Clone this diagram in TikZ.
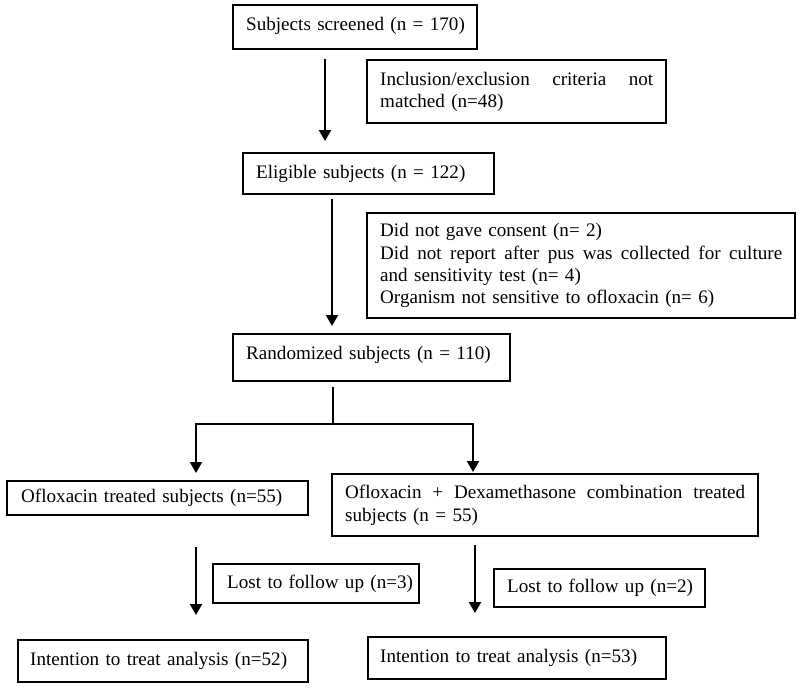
\documentclass[tikz,border=0pt]{standalone}
\usepackage{fontspec}
\setmainfont{Liberation Serif}
\usetikzlibrary{arrows.meta}
\newcommand{\jline}[2]{\leavevmode\hbox to #1{#2}}
\begin{document}
\begin{tikzpicture}[x=1pt,y=-1pt,
  box/.style={draw=black, line width=2.4pt, anchor=north west, inner xsep=13pt, inner ysep=0pt,
    align=left, font=\fontsize{19.1}{22.3}\selectfont},
  arr/.style={line width=2.1pt, -{Triangle[length=11pt,width=12pt]}},
  ln/.style={line width=2.1pt}]
\useasboundingbox (0,0) rectangle (798,689);
\fill[white] (0,0) rectangle (798,689);

\node[box, minimum width=244pt, minimum height=44pt, text width=218pt] (screen) at (232,4)
  {\mbox{Subjects screened (n = 170)}\strut\vspace{3pt}};
\node[box, minimum width=299pt, minimum height=63pt, text width=273pt] (incl) at (366,59)
  {\jline{273pt}{Inclusion/exclusion\hfill criteria\hfill not}\\matched (n=48)};
\node[box, minimum width=251pt, minimum height=41pt, text width=225pt] (elig) at (242,152)
  {\mbox{Eligible subjects (n = 122)}};
\node[box, minimum width=428pt, minimum height=105pt, text width=402pt] (didnot) at (366,212)
  {Did not gave consent (n= 2)\\
   \jline{402pt}{Did\hfill not\hfill report\hfill after\hfill pus\hfill was\hfill collected\hfill for\hfill culture}\\
   and sensitivity test (n= 4)\\
   Organism not sensitive to ofloxacin (n= 6)};
\node[box, minimum width=277pt, minimum height=47pt, text width=251pt] (rand) at (232,333)
  {\mbox{Randomized subjects (n = 110)}\strut\vspace{6pt}};
\node[box, inner xsep=14pt, minimum width=301pt, minimum height=34pt, text width=273pt] (oflo) at (6,480)
  {\mbox{Ofloxacin treated subjects (n=55)}};
\node[box, minimum width=426pt, minimum height=62pt, text width=400pt] (comb) at (331,473)
  {\jline{400pt}{Ofloxacin\hfill +\hfill Dexamethasone\hfill combination\hfill treated}\\subjects (n = 55)};
\node[box, inner xsep=14pt, minimum width=206pt, minimum height=39pt, text width=178pt] (lostA) at (212,563)
  {\mbox{Lost to follow up (n=3)}};
\node[box, minimum width=211pt, minimum height=38pt, text width=185pt] (lostB) at (493,568)
  {\mbox{Lost to follow up (n=2)}};
\node[box, inner xsep=12pt, minimum width=290pt, minimum height=42pt, text width=266pt] (ittA) at (17,639)
  {\mbox{Intention to treat analysis (n=52)}};
\node[box, inner xsep=12pt, minimum width=298pt, minimum height=42pt, text width=274pt] (ittB) at (367,636)
  {\mbox{Intention to treat analysis (n=53)}};

\coordinate (xa) at (325,0);
\coordinate (xb) at (332,0);
\coordinate (split) at (333,424);
\coordinate (xl) at (196,0);
\coordinate (xr) at (473,0);
\coordinate (xr2) at (475,0);

\draw[arr, shorten <=9pt, shorten >=11pt] (screen.south -| xa) -- (elig.north -| xa);
\draw[arr, shorten <=4pt, shorten >=7pt] (elig.south -| xb) -- (rand.north -| xb);
\draw[ln, shorten <=5pt] (rand.south -| split) -- (split);
\draw[arr, shorten >=7pt] (split) -| (oflo.north -| xl);
\draw[arr, shorten >=1pt] (split) -| (comb.north -| xr);
\draw[arr, shorten <=31pt, shorten >=24pt] (oflo.south -| xl) -- (ittA.north -| xl);
\draw[arr, shorten <=8pt, shorten >=23pt] (comb.south -| xr2) -- (ittB.north -| xr2);
\end{tikzpicture}
\end{document}
